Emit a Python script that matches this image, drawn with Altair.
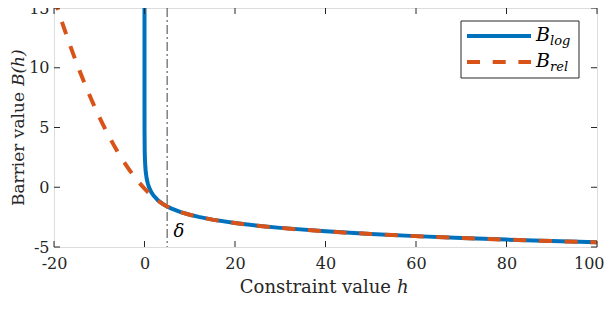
import altair as alt
import pandas as pd

# Log barrier B_log(h)
h_log = [0.0000003, 0.001, 0.01, 0.05, 0.1, 0.2, 0.3, 0.5, 0.75, 1, 1.5, 2, 3, 4, 5,
         6, 8, 10, 12, 15, 20, 25, 30, 40, 50, 60, 70, 80, 90, 100]
b_log = [15.0, 6.91, 4.61, 3.00, 2.30, 1.61, 1.20, 0.69, 0.29, 0.0, -0.41, -0.69, -1.10, -1.39, -1.61,
         -1.79, -2.08, -2.30, -2.48, -2.71, -3.00, -3.22, -3.40, -3.69, -3.91, -4.09, -4.25, -4.38, -4.50, -4.61]

# Relaxed barrier B_rel(h)
h_rel = [-20, -18, -16, -14, -12, -10, -8, -6, -4, -2, 0, 1, 2, 3, 4, 5,
         6, 8, 10, 12, 15, 20, 25, 30, 40, 50, 60, 70, 80, 90, 100]
b_rel = [15.9, 13.57, 11.41, 9.41, 7.57, 5.89, 4.37, 3.01, 1.81, 0.77, -0.11, -0.49, -0.83, -1.13, -1.39, -1.61,
         -1.79, -2.08, -2.30, -2.48, -2.71, -3.00, -3.22, -3.40, -3.69, -3.91, -4.09, -4.25, -4.38, -4.50, -4.61]

x_ticks = [-20, 0, 20, 40, 60, 80, 100]
y_ticks = [-5, 0, 5, 10, 15]
delta = 5

BLUE = "#0072BD"
ORANGE = "#D95319"
INK = "#262626"
FONT = "'DejaVu Serif', 'Liberation Serif', serif"
W, H = 543, 239
HY = "datum.value < 0 ? '-' + abs(datum.value) : '' + datum.value"

df_log = pd.DataFrame({"h": h_log, "B": b_log})
df_rel = pd.DataFrame({"h": h_rel, "B": b_rel})
df_xt = pd.DataFrame({"h": x_ticks})
df_yt = pd.DataFrame({"B": y_ticks})
one = pd.DataFrame({"a": [0]})

xs = alt.Scale(domain=[-20, 100], nice=False, zero=False)
ys = alt.Scale(domain=[-5, 15], nice=False, zero=False)

xaxis = alt.Axis(values=x_ticks, grid=False, domain=False, ticks=False, labelFont=FONT,
                 labelFontSize=16, labelColor=INK, labelPadding=8, title=None, labelFlush=False,
                 labelExpr=HY, labelAlign=alt.condition("datum.value == 100", alt.value("right"), alt.value("center")),
                 labelOffset=alt.condition("datum.value == 100", alt.value(7), alt.value(0)))
yaxis = alt.Axis(values=y_ticks, grid=False, domain=False, ticks=False, labelFont=FONT,
                 labelFontSize=16, labelColor=INK, labelPadding=5, title=None, labelExpr=HY)

blog = alt.Chart(df_log).mark_line(color=BLUE, strokeWidth=4, clip=True).encode(
    x=alt.X("h:Q", scale=xs, axis=xaxis), y=alt.Y("B:Q", scale=ys, axis=yaxis))
brel = alt.Chart(df_rel).mark_line(color=ORANGE, strokeWidth=4, strokeDash=[13, 12.7],
                                   strokeCap="butt", clip=True, interpolate="monotone").encode(
    x=alt.X("h:Q", scale=xs), y=alt.Y("B:Q", scale=ys))

vline = alt.Chart(pd.DataFrame({"h": [delta]})).mark_rule(
    color="#404040", strokeWidth=1, strokeDash=[9, 3, 2, 3]).encode(
    x=alt.X("h:Q", scale=xs), y=alt.value(0), y2=alt.value(H))

dlabel = alt.Chart(pd.DataFrame({"h": [7.6], "B": [-3.75], "t": ["δ"]})).mark_text(
    font=FONT, fontSize=18, fontStyle="italic", color="black", align="center", baseline="middle").encode(
    x=alt.X("h:Q", scale=xs), y=alt.Y("B:Q", scale=ys), text="t:N")

# inward ticks on all four sides
tick_len = 6
tb = alt.Chart(df_xt).mark_rule(color=INK, strokeWidth=1).encode(
    x=alt.X("h:Q", scale=xs), y=alt.value(H), y2=alt.value(H - tick_len))
tt = alt.Chart(df_xt).mark_rule(color=INK, strokeWidth=1).encode(
    x=alt.X("h:Q", scale=xs), y=alt.value(0), y2=alt.value(tick_len))
tl = alt.Chart(df_yt).mark_rule(color=INK, strokeWidth=1).encode(
    y=alt.Y("B:Q", scale=ys), x=alt.value(0), x2=alt.value(tick_len))
tr = alt.Chart(df_yt).mark_rule(color=INK, strokeWidth=1).encode(
    y=alt.Y("B:Q", scale=ys), x=alt.value(W), x2=alt.value(W - tick_len))

# axis titles with italic math parts
split_x = 337
xt1 = alt.Chart(one).mark_text(font=FONT, fontSize=18, color=INK, align="right", baseline="middle").encode(
    x=alt.value(split_x), y=alt.value(280), text=alt.value("Constraint value"))
xt2 = alt.Chart(one).mark_text(font=FONT, fontSize=18, fontStyle="italic", color=INK, align="left",
                               baseline="middle").encode(
    x=alt.value(split_x + 6), y=alt.value(280), text=alt.value("h"))
split_y = 84
yt1 = alt.Chart(one).mark_text(font=FONT, fontSize=17, color=INK, align="right", baseline="middle",
                               angle=270).encode(
    x=alt.value(-35), y=alt.value(split_y), text=alt.value("Barrier value"))
yt2 = alt.Chart(one).mark_text(font=FONT, fontSize=17, fontStyle="italic", color=INK, align="left",
                               baseline="middle", angle=270).encode(
    x=alt.value(-35), y=alt.value(split_y - 6), text=alt.value("B(h)"))

# legend
lbox = alt.Chart(one).mark_rect(fill="white", stroke=INK, strokeWidth=1).encode(
    x=alt.value(407), x2=alt.value(525), y=alt.value(13), y2=alt.value(70))
l1 = alt.Chart(one).mark_rule(color=BLUE, strokeWidth=4).encode(
    x=alt.value(413), x2=alt.value(477), y=alt.value(28))
l2 = alt.Chart(one).mark_rule(color=ORANGE, strokeWidth=4, strokeDash=[13, 12.7], strokeCap="butt").encode(
    x=alt.value(413), x2=alt.value(477), y=alt.value(54))
lb1 = alt.Chart(one).mark_text(font=FONT, fontSize=19, fontStyle="italic", color="black", align="left",
                               baseline="middle").encode(x=alt.value(482), y=alt.value(27), text=alt.value("B"))
ls1 = alt.Chart(one).mark_text(font=FONT, fontSize=13, fontStyle="italic", color="black", align="left",
                               baseline="middle").encode(x=alt.value(496), y=alt.value(33), text=alt.value("log"))
lb2 = alt.Chart(one).mark_text(font=FONT, fontSize=19, fontStyle="italic", color="black", align="left",
                               baseline="middle").encode(x=alt.value(482), y=alt.value(53), text=alt.value("B"))
ls2 = alt.Chart(one).mark_text(font=FONT, fontSize=13, fontStyle="italic", color="black", align="left",
                               baseline="middle").encode(x=alt.value(496), y=alt.value(59), text=alt.value("rel"))

chart = alt.layer(
    vline, blog, brel, dlabel, tb, tt, tl, tr, xt1, xt2, yt1, yt2, lbox, l1, l2, lb1, ls1, lb2, ls2
).properties(
    width=W, height=H, autosize=alt.AutoSizeParams(type="none"),
    padding={"left": 46, "top": 0, "right": 7, "bottom": 58}
).configure_view(stroke=INK, strokeWidth=1).configure(background="white")

chart.save("out.html", embed_options={"renderer": "svg", "actions": False})
